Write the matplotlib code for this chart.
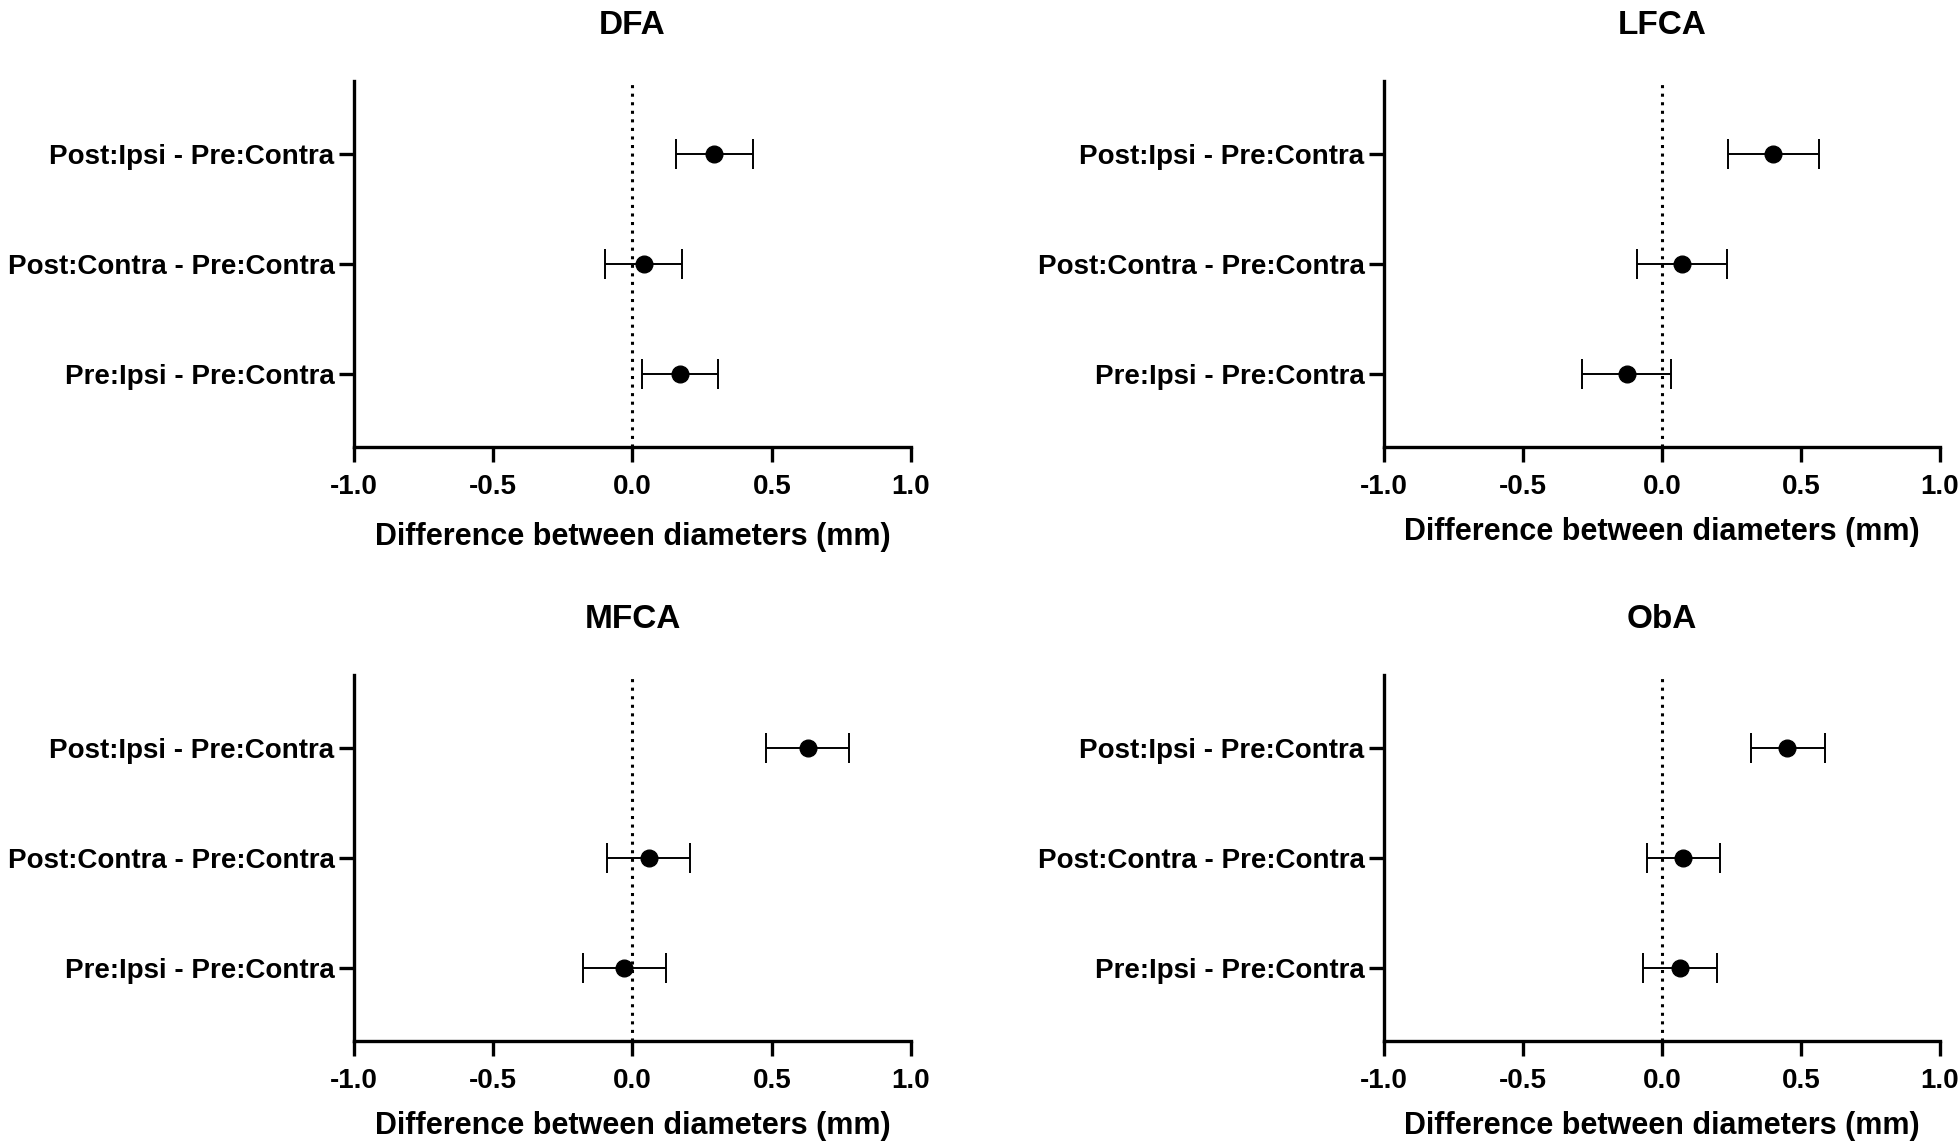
import numpy as np
import matplotlib
matplotlib.use('Agg')
import matplotlib.pyplot as plt

plt.rcParams['font.family'] = ['Liberation Sans', 'DejaVu Sans']
plt.rcParams['font.weight'] = 'bold'

# comparisons, bottom to top
labels = ['Pre:Ipsi - Pre:Contra', 'Post:Contra - Pre:Contra', 'Post:Ipsi - Pre:Contra']
panels = ['DFA', 'LFCA', 'MFCA', 'ObA']

# mean differences (mm) with lower / upper CI, order matches labels
dfa_mean = [0.169, 0.041, 0.293]
dfa_low = [0.033, -0.098, 0.157]
dfa_high = [0.307, 0.176, 0.431]

lfca_mean = [-0.127, 0.073, 0.400]
lfca_low = [-0.289, -0.091, 0.238]
lfca_high = [0.034, 0.234, 0.563]

mfca_mean = [-0.029, 0.059, 0.630]
mfca_low = [-0.177, -0.092, 0.481]
mfca_high = [0.120, 0.206, 0.779]

oba_mean = [0.065, 0.077, 0.451]
oba_low = [-0.068, -0.055, 0.319]
oba_high = [0.197, 0.209, 0.585]

data = {
    'DFA': (dfa_mean, dfa_low, dfa_high),
    'LFCA': (lfca_mean, lfca_low, lfca_high),
    'MFCA': (mfca_mean, mfca_low, mfca_high),
    'ObA': (oba_mean, oba_low, oba_high),
}

fig = plt.figure(figsize=(19.6, 11.45), dpi=100)

positions = {
    'DFA': [0.1806, 0.6096, 0.2842, 0.3197],
    'LFCA': [0.7061, 0.6096, 0.2837, 0.3197],
    'MFCA': [0.1806, 0.0908, 0.2842, 0.3197],
    'ObA': [0.7061, 0.0908, 0.2837, 0.3197],
}
xlabel_pad = {'DFA': 16, 'LFCA': 12.5, 'MFCA': 12.5, 'ObA': 12.5}

for name in panels:
    ax = fig.add_axes(positions[name])
    mean, low, high = data[name]
    mean = np.array(mean)
    err = [mean - np.array(low), np.array(high) - mean]
    y = np.arange(1, len(labels) + 1)

    ax.axvline(0, color='black', linestyle=(0, (1, 1.8)), linewidth=2.2, zorder=1)
    ax.errorbar(mean, y, xerr=err, fmt='o', color='black', markersize=12,
                ecolor='black', elinewidth=1.4, capsize=11, capthick=1.4, zorder=3)

    ax.set_xlim(-1.0, 1.0)
    ax.set_ylim(0.34, 3.66)
    ax.set_xticks([-1.0, -0.5, 0.0, 0.5, 1.0])
    ax.set_xticklabels(['-1.0', '-0.5', '0.0', '0.5', '1.0'])
    ax.set_yticks(y)
    ax.set_yticklabels(labels)

    ax.spines['top'].set_visible(False)
    ax.spines['right'].set_visible(False)
    for s in ['left', 'bottom']:
        ax.spines[s].set_linewidth(2.4)
    ax.tick_params(axis='both', width=2.4, length=11, labelsize=20)
    ax.tick_params(axis='x', pad=8.5)
    ax.tick_params(axis='y', pad=3)
    for lab in ax.get_xticklabels() + ax.get_yticklabels():
        lab.set_fontweight('bold')

    ax.set_title(name, fontsize=24, fontweight='bold', pad=34)
    ax.set_xlabel('Difference between diameters (mm)', fontsize=22,
                  fontweight='bold', labelpad=xlabel_pad[name])

plt.savefig('out.png', dpi=100)
